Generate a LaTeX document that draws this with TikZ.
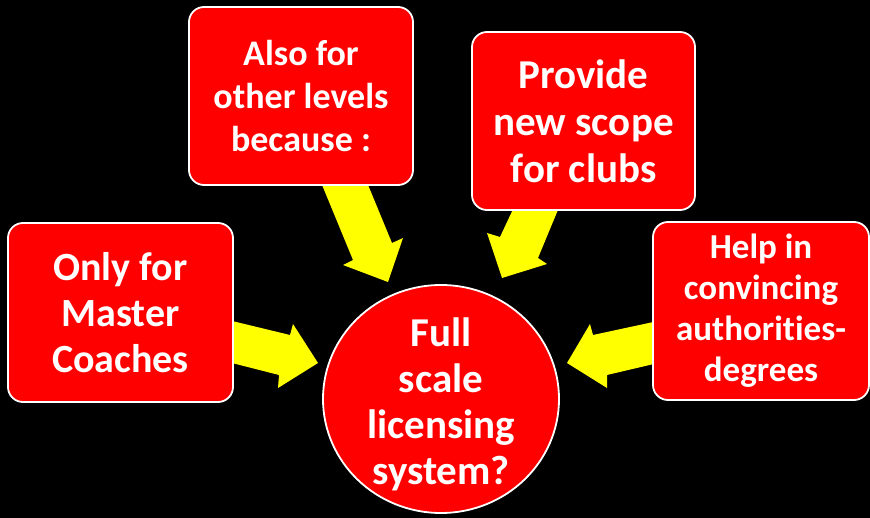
\documentclass[tikz,border=0pt]{standalone}
\usepackage{fontspec}
\setmainfont{Carlito}[Ligatures={NoCommon,NoRare,NoContextual}]
\definecolor{boxred}{RGB}{255,0,0}
\definecolor{arrowyellow}{RGB}{255,255,0}
\begin{document}
\begin{tikzpicture}[x=1pt,y=-1pt,
  box/.style={draw=white, line width=1.8pt, fill=boxred, rounded corners=15pt,
    text=white, align=center, inner sep=0pt, font=\bfseries},
  blockarrow/.style={fill=arrowyellow}]
\fill[black] (0,0) rectangle (870,518);
\useasboundingbox (0,0) rectangle (870,518);
% arrows
\fill[blockarrow] (228,320) -- (290,335) -- (293,324) -- (318,363) -- (278,388) -- (279,375) -- (228,362) -- cycle;
\fill[blockarrow] (320,180) -- (366,180) -- (392,243) -- (403,238) -- (388,282) -- (343,265) -- (353,260) -- cycle;
\fill[blockarrow] (515,205) -- (560,205) -- (538,258) -- (547,264) -- (502,278) -- (487,233) -- (500,237) -- cycle;
\fill[blockarrow] (658,321) -- (593,335) -- (590,324) -- (567,363) -- (607,388) -- (607,375) -- (658,363) -- cycle;
% boxes
\node[box, minimum width=225pt, minimum height=179pt, font=\bfseries\fontsize{40}{46}\selectfont] (master) at (120.5,312.5) {Only for\\Master\\Coaches};
\node[box, minimum width=224pt, minimum height=178pt, font=\bfseries\fontsize{36}{43}\selectfont] (also) at (301,96) {Also for\\other levels\\because :};
\node[box, minimum width=223pt, minimum height=178pt, font=\bfseries\fontsize{41}{47}\selectfont] (scope) at (583.5,121) {Provide\\new scope\\for clubs};
\node[box, minimum width=216pt, minimum height=178pt, font=\bfseries\fontsize{35}{41}\selectfont] (help) at (761,311) {Help in\\convincing\\authorities-\\degrees};
\draw[draw=white, line width=1.8pt, fill=boxred] (441,399) ellipse [x radius=118, y radius=114];
\node[text=white, align=center, inner sep=0pt, font=\bfseries\fontsize{41}{46}\selectfont] (full) at (441,404) {Full\\scale\\licensing\\system?};
\end{tikzpicture}
\end{document}
